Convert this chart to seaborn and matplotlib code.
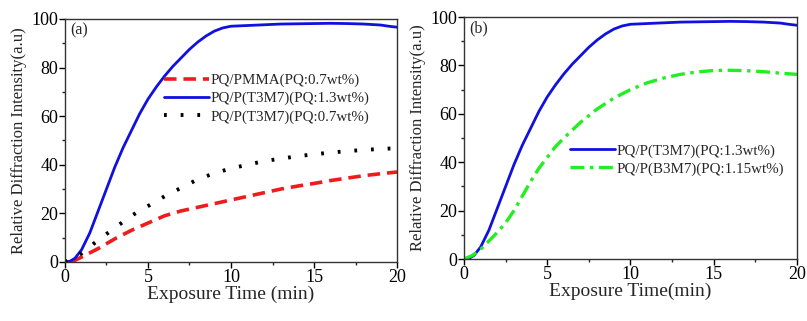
import numpy as np
import pandas as pd
import matplotlib
matplotlib.use("Agg")
import matplotlib.pyplot as plt
import seaborn as sns

# ---- data ----
t_blue = [0, 0.3, 0.6, 1.0, 1.5, 2.0, 2.5, 3.0, 3.5, 4.0, 4.5, 5.0, 5.5, 6.0, 6.5, 7.0, 7.5, 8.0, 8.5, 9.0,
          9.5, 10.0, 11.0, 12.0, 13.0, 14.0, 15.0, 16.0, 17.0, 18.0, 19.0, 19.5, 20.0]
v_blue = [0, 0.3, 1.5, 5, 12, 21, 30, 39, 47, 54, 61, 67, 72, 76.5, 80.5, 84, 87.5, 90.5, 93, 95,
          96.3, 97, 97.3, 97.6, 97.9, 98.0, 98.1, 98.2, 98.1, 97.9, 97.5, 97.0, 96.6]

t_red = [0.4, 1.0, 2.0, 3.0, 4.0, 5.0, 6.0, 7.0, 8.0, 9.0, 10.0, 11.0, 12.0, 13.0, 14.0, 15.0, 16.0, 17.0,
         18.0, 19.0, 20.0]
v_red = [0, 2, 5.5, 9.5, 13, 16, 19, 21, 22.5, 24, 25.5, 27, 28.5, 30, 31.2, 32.3, 33.5, 34.5, 35.5, 36.3, 37]

t_black = [0, 1.0, 2.0, 3.0, 4.0, 5.0, 6.0, 7.0, 8.0, 9.0, 10.0, 11.0, 12.0, 13.0, 14.0, 15.0, 16.0, 17.0,
           18.0, 19.0, 20.0]
v_black = [0, 3.5, 9, 14, 19, 23, 27, 30.5, 34, 36.5, 38.5, 40, 41.5, 42.5, 43.5, 44.3, 45, 45.6, 46.1, 46.5, 46.8]

t_green = [0, 0.5, 1.0, 1.5, 2.0, 2.5, 3.0, 3.5, 4.0, 4.5, 5.0, 5.5, 6.0, 7.0, 8.0, 9.0, 10.0, 11.0, 12.0,
           13.0, 14.0, 15.0, 16.0, 17.0, 18.0, 19.0, 20.0]
v_green = [0, 1.5, 4, 7.5, 11, 15, 20, 26, 32, 37.5, 42, 46.5, 50, 56.5, 62, 66.5, 70, 72.8, 74.8,
           76.3, 77.3, 77.9, 78.0, 77.8, 77.4, 76.8, 76.3]

lab_red = "PQ/PMMA(PQ:0.7wt%)"
lab_blue = "PQ/P(T3M7)(PQ:1.3wt%)"
lab_black = "PQ/P(T3M7)(PQ:0.7wt%)"
lab_green = "PQ/P(B3M7)(PQ:1.15wt%)"

sns.set_theme(style="white")
plt.rcParams["font.family"] = ["Liberation Serif", "DejaVu Serif"]
plt.rcParams["lines.scale_dashes"] = False

fig = plt.figure(figsize=(8.07, 3.21), dpi=100)
axa = fig.add_axes([0.0805, 0.184, 0.4115, 0.757])
axb = fig.add_axes([0.575, 0.193, 0.4125, 0.754])

sns.lineplot(x=t_red, y=v_red, ax=axa, color="#ee1c1c", lw=2.6, linestyle=(0, (9, 5)), label=lab_red)
sns.lineplot(x=t_blue, y=v_blue, ax=axa, color="#1010e0", lw=2.0, label=lab_blue)
sns.lineplot(x=t_black, y=v_black, ax=axa, color="black", lw=2.8, linestyle=(0, (2, 10)), label=lab_black)

sns.lineplot(x=t_blue, y=v_blue, ax=axb, color="#1010e0", lw=2.0, label=lab_blue)
sns.lineplot(x=t_green, y=v_green, ax=axb, color="#22ee22", lw=2.4, linestyle=(0, (10, 4, 2.5, 4)), label=lab_green)

for ax, tag, xl in [(axa, "(a)", "Exposure Time (min)"), (axb, "(b)", "Exposure Time(min)")]:
    ax.set_xlim(0, 20)
    ax.set_ylim(0, 100)
    ax.set_xticks([0, 5, 10, 15, 20])
    ax.set_yticks([0, 20, 40, 60, 80, 100])
    ax.set_xticks(np.arange(2.5, 20, 5), minor=True)
    ax.set_yticks(np.arange(10, 100, 20), minor=True)
    ax.tick_params(which="major", direction="out", length=4, width=1, labelsize=13, pad=1,
                   bottom=True, left=True, colors="black")
    ax.tick_params(which="minor", direction="out", length=2.5, width=1, bottom=True, left=True)
    for s in ax.spines.values():
        s.set_color("#333333")
        s.set_linewidth(1.0)
    ax.set_xlabel(xl, fontsize=14, labelpad=0)
    ax.set_ylabel("Relative Diffraction Intensity(a.u)", fontsize=12, labelpad=3)
    ax.text(0.015, 0.985, tag, transform=ax.transAxes, ha="left", va="top", fontsize=11.5)

axa.legend(loc="upper left", bbox_to_anchor=(0.28, 0.80), frameon=False, fontsize=10.8,
           handlelength=3.0, handletextpad=0.1, labelspacing=0.3, borderaxespad=0)
axb.legend(loc="upper left", bbox_to_anchor=(0.3, 0.50), frameon=False, fontsize=10.8,
           handlelength=3.0, handletextpad=0.1, labelspacing=0.3, borderaxespad=0)

fig.savefig("out.png", dpi=100)
